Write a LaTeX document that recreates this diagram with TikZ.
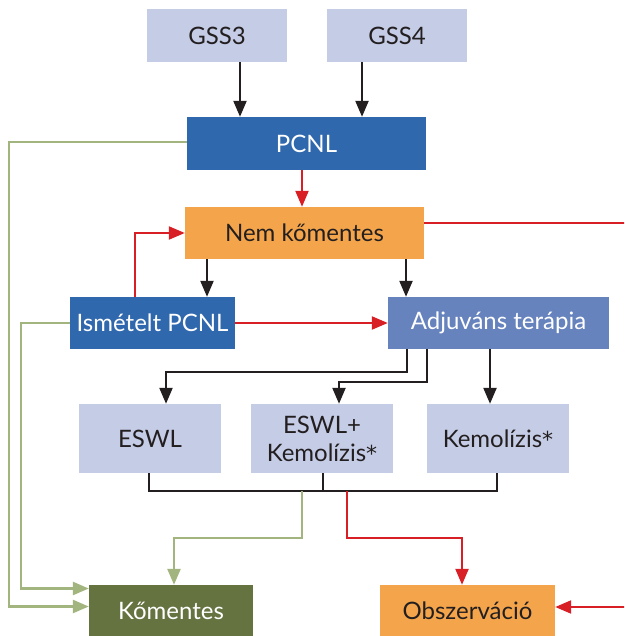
\documentclass[tikz,border=0pt]{standalone}
\usepackage{fontspec}
\setmainfont{Lato}
\newfontfamily\astfont{DejaVu Sans}
\newcommand{\myast}{{\astfont\fontsize{22}{28}\selectfont *}}
\usetikzlibrary{arrows.meta}
\definecolor{lav}{HTML}{C5CCE5}
\definecolor{pblue}{HTML}{3068AD}
\definecolor{ablue}{HTML}{6783BD}
\definecolor{orng}{HTML}{F4A54B}
\definecolor{gbox}{HTML}{657341}
\definecolor{gline}{HTML}{A2B57F}
\definecolor{rline}{HTML}{D91F26}
\definecolor{bline}{HTML}{231F20}
\begin{document}
\begin{tikzpicture}[x=1pt,y=-1pt,
  box/.style={rectangle, inner sep=0pt, align=center, font=\fontsize{24}{28}\selectfont},
  lbox/.style={box, fill=lav, text=bline},
  bbox/.style={box, fill=pblue, text=white},
  abox/.style={box, fill=ablue, text=white},
  obox/.style={box, fill=orng, text=bline},
  gboxs/.style={box, fill=gbox, text=white},
  tip/.style={-{Triangle[length=16pt,width=13pt]}},
  blk/.style={draw=bline, line width=2.3pt},
  red/.style={draw=rline, line width=2.3pt},
  grn/.style={draw=gline, line width=2.5pt}]
\useasboundingbox (0,0) rectangle (624,636);
\clip (0,0) rectangle (624,636);
\node[lbox, minimum width=140pt, minimum height=53pt] (gss3) at (217,35.5) {GSS3};
\node[lbox, minimum width=140pt, minimum height=53pt] (gss4) at (397,35.5) {GSS4};
\node[bbox, minimum width=239pt, minimum height=53pt] (pcnl) at (306.5,143.5) {PCNL};
\node[obox, minimum width=239pt, minimum height=52pt] (nem) at (304.5,233) {Nem kőmentes};
\node[bbox, minimum width=165pt, minimum height=52pt] (ism) at (152.5,323) {Ismételt PCNL};
\node[abox, minimum width=221pt, minimum height=52pt] (adj) at (498.5,323) {Adjuváns terápia};
\node[lbox, minimum width=142pt, minimum height=69pt] (eswl) at (150,438.5) {ESWL};
\node[lbox, minimum width=142pt, minimum height=69pt] (ek) at (322,438.5) {ESWL+\\Kemolízis\myast};
\node[lbox, minimum width=142pt, minimum height=69pt] (kemo) at (498,438.5) {Kemolízis\myast};
\node[gboxs, minimum width=164pt, minimum height=52pt] (kom) at (171,611) {Kőmentes};
\node[obox, minimum width=175pt, minimum height=52pt] (obs) at (467.5,611) {Obszerváció};
\coordinate (bar) at (0,491);
\coordinate (lx1) at (9,0);
\coordinate (lx2) at (21,0);
\coordinate (g1) at (302,491);
\coordinate (r1) at (347,491);
\coordinate (rx) at (640,0);
% black arrows
\draw[blk,tip] ([xshift=23pt]gss3.south) -- ([xshift=23pt]gss3.south |- pcnl.north);
\draw[blk,tip] ([xshift=-35pt]gss4.south) -- ([xshift=-35pt]gss4.south |- pcnl.north);
\draw[blk,tip] ([xshift=-97.5pt]nem.south) -- ([xshift=-97.5pt]nem.south |- ism.north);
\draw[blk,tip] ([xshift=101.5pt]nem.south) -- ([xshift=101.5pt]nem.south |- adj.north);
\draw[blk,tip] ([xshift=-91.5pt]adj.south) -- ++(0,23) -| ([xshift=16pt]eswl.north);
\draw[blk,tip] ([xshift=-71.5pt]adj.south) -- ++(0,33) -| ([xshift=17pt]ek.north);
\draw[blk,tip] ([xshift=-8.5pt]adj.south) -- ([xshift=-8.5pt]adj.south |- kemo.north);
% bracket
\draw[blk] ([xshift=-1pt]eswl.south) -- ([xshift=-1pt]eswl.south |- bar) -- ([xshift=-1pt]kemo.south |- bar) -- ([xshift=-1pt]kemo.south);
\draw[blk] ([xshift=1pt]ek.south) -- ([xshift=1pt]ek.south |- bar);
% red arrows
\draw[red,tip] ([xshift=-4.5pt]pcnl.south) -- ([xshift=-4.5pt]pcnl.south |- nem.north);
\draw[red,tip] ([xshift=-17.5pt]ism.north) |- (nem.west);
\draw[red,tip] (ism.east) -- (adj.west);
\draw[red,tip] (r1) -- ++(0,47) -| ([xshift=-5.5pt]obs.north);
\draw[red,tip] ([yshift=10pt]nem.east) -- ([yshift=10pt]nem.east -| rx) |- ([yshift=4pt]obs.east);
% green arrows
\draw[grn,tip] (g1) -- ++(0,47) -| ([xshift=3pt]kom.north);
\draw[grn,tip] ([yshift=1.5pt]pcnl.west) -- ([yshift=1.5pt]pcnl.west -| lx1) |- ([yshift=4.5pt]kom.west);
\draw[grn,tip] (ism.west) -- (ism.west -| lx2) |- ([yshift=22.5pt]kom.west);
\end{tikzpicture}
\end{document}
